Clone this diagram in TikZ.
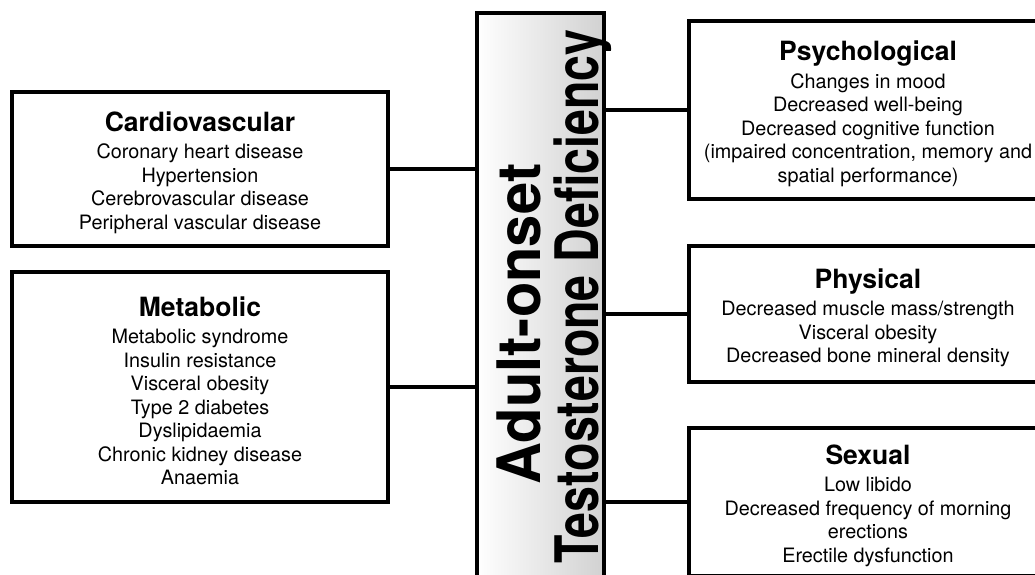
\documentclass[tikz,border=0pt]{standalone}
\usepackage{graphicx}
\usepackage{fontspec}
\setmainfont{TeX Gyre Heros}
\newcommand\boxhead[1]{{\fontsize{26.5}{28}\selectfont\bfseries\rule{0pt}{27pt}#1}\\[4pt]}
\begin{document}
\begin{tikzpicture}[x=1pt,y=-1pt,
  box/.style={draw, line width=3.8pt, fill=white, align=center, inner sep=0pt,
    font=\fontsize{19.8}{23.5}\selectfont},
  link/.style={line width=3.8pt},
  vlabel/.style={rotate=90, anchor=base, inner sep=0pt, font=\fontsize{60}{62}\selectfont\bfseries}]
\useasboundingbox (0,0) rectangle (1035,575);
\clip (0,0) rectangle (1035,575);
\node[draw, line width=3.8pt, minimum width=127pt, minimum height=587pt, inner sep=0pt,
  left color=white, right color=black!18] (core) at (540.5,306.5) {};
\node[vlabel] (l1) at (540,324) {\scalebox{0.965}[1]{Adult-onset}};
\node[vlabel] (l2) at (598,296.5) {\scalebox{0.775}[1]{Testosterone Deficiency}};

\node[box, minimum width=376pt, minimum height=154pt] (cardio) at (200,169)
  {\boxhead{Cardiovascular}Coronary heart disease\\Hypertension\\Cerebrovascular disease\\Peripheral vascular disease};
\node[box, minimum width=376pt, minimum height=230pt] (meta) at (200,387)
  {\boxhead{Metabolic}Metabolic syndrome\\Insulin resistance\\Visceral obesity\\Type 2 diabetes\\Dyslipidaemia\\Chronic kidney disease\\Anaemia};
\node[box, minimum width=358pt, minimum height=178pt] (psych) at (868,110)
  {\boxhead{Psychological}Changes in mood\\Decreased well-being\\Decreased cognitive function\\(impaired concentration, memory and\\spatial performance)};
\node[box, minimum width=358pt, minimum height=136pt] (phys) at (868,314)
  {\boxhead{Physical}Decreased muscle mass/strength\\Visceral obesity\\Decreased bone mineral density};
\node[box, minimum width=358pt, minimum height=148pt] (sex) at (868,502)
  {\boxhead{Sexual}Low libido\\Decreased frequency of morning\\erections\\Erectile dysfunction};

\draw[link] (cardio.east) -- (cardio.east -| core.west);
\draw[link] (meta.east) -- (meta.east -| core.west);
\draw[link] (core.east |- psych.west) -- (psych.west);
\draw[link] (core.east |- phys.west) -- (phys.west);
\draw[link] (core.east |- sex.west) -- (sex.west);
\end{tikzpicture}
\end{document}
